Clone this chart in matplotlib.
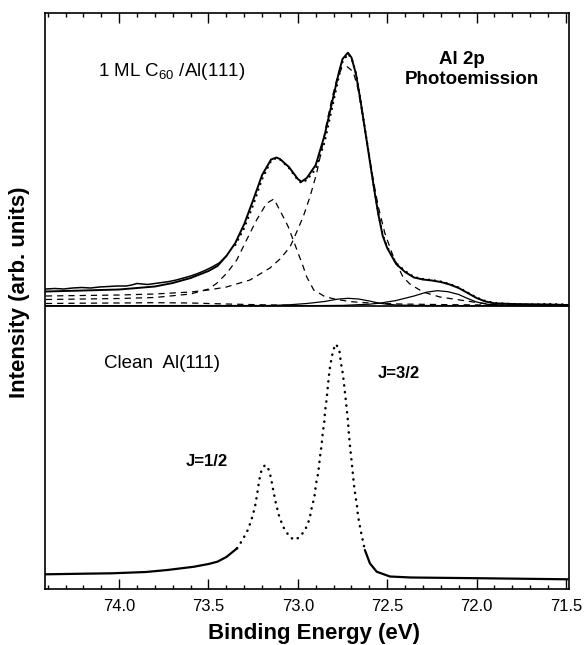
import numpy as np
import matplotlib
matplotlib.use("Agg")
import matplotlib.pyplot as plt

plt.rcParams['font.family'] = ['Liberation Sans', 'DejaVu Sans']
plt.rcParams['mathtext.fontset'] = 'custom'
plt.rcParams['mathtext.rm'] = 'Liberation Sans'
plt.rcParams['mathtext.it'] = 'Liberation Sans:italic'
plt.rcParams['mathtext.bf'] = 'Liberation Sans:bold'

# ---------------- data (binding energy in eV, intensity in arb. units) -------------
# Clean Al(111) spectrum
clean_E = [74.41, 74.20, 74.04, 73.85, 73.73, 73.58, 73.50, 73.45, 73.40, 73.34,
           73.31, 73.28, 73.26, 73.24, 73.227, 73.216, 73.203, 73.184, 73.166, 73.152,
           73.138, 73.123, 73.104, 73.082, 73.072, 73.044, 73.016, 72.988, 72.960, 72.942,
           72.932, 72.923, 72.914, 72.904, 72.899, 72.889, 72.882, 72.876, 72.867, 72.861,
           72.852, 72.848, 72.839, 72.833, 72.827, 72.820, 72.811, 72.802, 72.787, 72.768,
           72.759, 72.749, 72.742, 72.735, 72.727, 72.720, 72.714, 72.707, 72.699, 72.692,
           72.686, 72.677, 72.669, 72.664, 72.656, 72.649, 72.637, 72.625, 72.597, 72.559,
           72.485, 72.367, 71.950, 71.489]
clean_I = [14.7, 15.3, 15.7, 17.0, 19.0, 22.3, 25.0, 27.3, 32.0, 40.7,
           49.0, 59.0, 69.0, 82.0, 95.7, 109.0, 119.0, 124.0, 120.7, 112.3,
           99.0, 85.7, 72.3, 62.3, 59.0, 51.7, 49.0, 52.3, 59.0, 66.3,
           72.3, 80.7, 87.3, 95.7, 104.7, 113.3, 122.3, 132.3, 144.0, 155.7,
           167.3, 177.3, 189.7, 201.0, 212.0, 222.3, 231.0, 239.0, 245.0, 239.0,
           226.0, 216.0, 205.7, 194.0, 180.7, 168.3, 154.0, 140.7, 127.3, 115.0,
           104.0, 92.3, 83.0, 74.0, 65.7, 59.0, 49.0, 39.0, 25.7, 17.3,
           12.5, 11.5, 10.7, 9.7]

# 1 ML C60/Al(111): measured data
data_E = [74.41, 74.36, 74.31, 74.26, 74.21, 74.16, 74.11, 74.06, 74.01, 73.96,
          73.93, 73.90, 73.87, 73.84, 73.80, 73.76, 73.72, 73.68, 73.64, 73.60,
          73.56, 73.52, 73.48, 73.44, 73.40, 73.35, 73.30, 73.25, 73.20, 73.15,
          73.12, 73.10, 73.05, 73.00, 72.98, 72.95, 72.90, 72.85, 72.80, 72.77,
          72.75, 72.72, 72.70, 72.675, 72.65, 72.625, 72.60, 72.575, 72.55, 72.525,
          72.50, 72.45, 72.40, 72.35, 72.30, 72.25, 72.20, 72.15, 72.10, 72.05,
          72.00, 71.95, 71.90, 71.80, 71.70, 71.60, 71.49]
data_I = [300, 300.5, 300, 301, 301.5, 301, 302, 302.5, 303, 303,
          304, 305.5, 305, 304.5, 305.5, 306.5, 307.5, 309, 311, 313,
          315.5, 318.5, 322, 326, 333, 344, 361, 384, 410, 428,
          431, 429.5, 421, 409, 406, 409, 420, 447, 488, 513,
          527, 535, 531, 516, 490, 461, 432, 403, 376, 354,
          342, 326, 318, 312, 310, 309, 307.5, 305, 301.5, 296.5,
          291.5, 288, 286, 285, 284.5, 285, 284.5]

# total fit
fit_E = [74.41, 74.20, 74.00, 73.80, 73.70, 73.60, 73.50, 73.45, 73.40, 73.35,
         73.30, 73.25, 73.20, 73.15, 73.12, 73.10, 73.05, 73.00, 72.98, 72.95,
         72.90, 72.85, 72.80, 72.77, 72.75, 72.72, 72.70, 72.675, 72.65, 72.625,
         72.60, 72.575, 72.55, 72.525, 72.50, 72.45, 72.40, 72.35, 72.30, 72.25,
         72.20, 72.15, 72.10, 72.05, 72.00, 71.95, 71.90, 71.80, 71.60, 71.49]
fit_I = [297.5, 298.5, 299.5, 302.5, 306, 311, 318, 323, 333, 346,
         365, 389, 414, 429.5, 431.5, 430, 422, 410, 407.3, 411,
         424, 454, 493.5, 517, 530, 536.3, 531.5, 515, 489, 460,
         431, 402, 375, 353, 341, 325, 317, 311.5, 309.5, 308.5,
         307, 304.5, 301, 296, 291, 287.5, 285.7, 285, 284.5, 284]

# dashed fit components
big_E = [74.41, 74.20, 74.00, 73.80, 73.60, 73.50, 73.40, 73.268, 73.156, 73.10,
         73.044, 73.026, 72.970, 72.932, 72.895, 72.867, 72.839, 72.811, 72.783, 72.755,
         72.724, 72.690, 72.662, 72.634, 72.606, 72.578, 72.550, 72.513, 72.466, 72.412,
         72.373, 72.300, 72.205, 72.093, 71.981, 71.869, 71.75, 71.49]
big_I = [293, 293.5, 294, 295, 297, 299, 302, 309, 321, 330,
         342, 349, 372.3, 392.3, 415.7, 439, 465.7, 489, 509, 520.7,
         522.3, 517.3, 499, 469, 439, 409, 382.3, 355.7, 332.3, 312,
         305, 297, 292, 289, 286, 284, 283.5, 283.3]

sec_E = [74.41, 74.20, 74.00, 73.80, 73.60, 73.50, 73.454, 73.398, 73.342, 73.287,
         73.231, 73.175, 73.134, 73.082, 73.054, 73.026, 72.998, 72.970, 72.951, 72.911,
         72.848, 72.787, 72.703, 72.597, 72.43, 72.15, 71.49]
sec_I = [289.5, 290, 290.5, 291.5, 295, 300, 305.7, 315.7, 329, 349,
         369, 385.7, 390, 372.3, 362.3, 349, 335.7, 322.3, 312.3, 299,
         292.3, 289.7, 287.3, 286, 285, 284.3, 283.5]

third_E = [74.41, 74.20, 74.00, 73.80, 73.60, 73.40, 73.20, 73.00]
third_I = [285.5, 285.8, 286, 286.3, 286, 285, 284.2, 283.6]

# small solid fit components
bumpA_E = [74.41, 73.15, 73.05, 72.95, 72.85, 72.78, 72.72, 72.66, 72.60, 72.55,
           72.50, 72.45, 72.35, 72.20, 71.90, 71.49]
bumpA_I = [283.3, 283.5, 284.2, 285.5, 287.5, 289.8, 290.7, 290, 288, 286,
           284.8, 284, 283.6, 283.4, 283.3, 283.3]

bumpB_E = [74.41, 72.90, 72.75, 72.60, 72.535, 72.45, 72.35, 72.28, 72.22, 72.16,
           72.10, 72.05, 72.00, 71.95, 71.90, 71.80, 71.49]
bumpB_I = [283.3, 283.4, 283.6, 284.8, 286, 288.5, 293, 296.8, 298.3, 297.3,
           294.5, 290.5, 287, 285, 284, 283.5, 283.3]

top_base = 283.3

x_major = [74.0, 73.5, 73.0, 72.5, 72.0, 71.5]
x_labels = ["74.0", "73.5", "73.0", "72.5", "72.0", "71.5"]

# ---------------- figure ---------------------------------------------------------
W, H = 585, 645
fig = plt.figure(figsize=(W / 100, H / 100), dpi=100)
ax = fig.add_axes([44.8 / W, 56 / H, (568.6 - 44.8) / W, (589 - 13) / H])
ax.set_xlim(74.416, 71.485)
ax.set_ylim(0, 576)

k = 'black'
# clean spectrum: solid in tails, dotted through the peaks
cE = np.array(clean_E); cI = np.array(clean_I)
m_left = cE >= 73.34
m_right = cE <= 72.625
m_mid = (cE <= 73.34) & (cE >= 72.625)
ax.plot(cE[m_left], cI[m_left], color=k, lw=1.6, solid_capstyle='round')
ax.plot(cE[m_right], cI[m_right], color=k, lw=1.6, solid_capstyle='round')
ax.plot(cE[m_mid], cI[m_mid], color=k, lw=1.8, linestyle=(0, (0.1, 2.6)),
        dash_capstyle='round')

# top spectrum
dE = np.array(data_E); dI = np.array(data_I)
mt = dE >= 73.40
ax.plot(dE[mt], dI[mt], color=k, lw=1.1)
ax.plot(dE[~mt], dI[~mt], color=k, lw=1.6, linestyle=(0, (0.1, 2.6)),
        dash_capstyle='round')
ax.plot(fit_E, fit_I, color=k, lw=1.4)
dash = (0, (5, 4))
ax.plot(big_E, big_I, color=k, lw=0.9, linestyle=dash)
ax.plot(sec_E, sec_I, color=k, lw=0.9, linestyle=dash)
ax.plot(third_E, third_I, color=k, lw=0.9, linestyle=dash)
ax.plot(bumpA_E, bumpA_I, color=k, lw=0.9)
ax.plot(bumpB_E, bumpB_I, color=k, lw=0.9)
ax.plot([74.416, 71.485], [top_base, top_base], color=k, lw=1.2)

# axes styling
for s in ax.spines.values():
    s.set_linewidth(1.2)
ax.set_xticks(x_major)
ax.set_xticklabels(x_labels, fontsize=12)
ax.set_xticks(np.arange(74.4, 71.45, -0.1), minor=True)
ax.tick_params(axis='x', which='major', direction='in', length=7, width=1.0,
               top=True, bottom=True, pad=7)
ax.tick_params(axis='x', which='minor', direction='in', length=3.2, width=1.0,
               top=True, bottom=True)
ax.set_yticks([])

# labels / annotations
fig.text(314 / W, (H - 634) / H, "Binding Energy (eV)", ha='center', va='center',
         fontsize=16, fontweight='bold')
fig.text(20 / W, (H - 292) / H, "Intensity (arb. units)", ha='center', va='center',
         rotation=90, fontsize=16, fontweight='bold')
fig.text(98 / W, (H - 72) / H, r"1 ML C$_{\mathrm{60}}$ /Al(111)", ha='left',
         va='center', fontsize=13.5)
fig.text(462 / W, (H - 60) / H, "Al 2p", ha='center', va='center',
         fontsize=13.5, fontweight='bold')
fig.text(471.6 / W, (H - 79) / H, "Photoemission", ha='center', va='center',
         fontsize=13.5, fontweight='bold')
fig.text(104 / W, (H - 363) / H, "Clean  Al(111)", ha='left', va='center',
         fontsize=13.5)
fig.text(378 / W, (H - 373) / H, "J=3/2", ha='left', va='center',
         fontsize=12, fontweight='bold')
fig.text(186 / W, (H - 461) / H, "J=1/2", ha='left', va='center',
         fontsize=12, fontweight='bold')

fig.savefig("out.png", dpi=100)
